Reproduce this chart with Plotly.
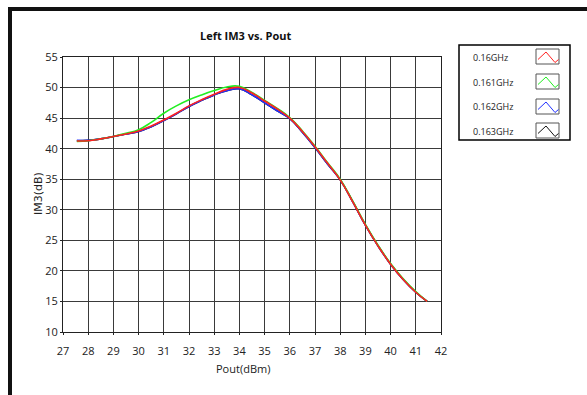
import plotly.graph_objects as go

# Output power sweep (dBm)
pout = [27.55, 28, 28.5, 29, 29.5, 30, 30.5, 31, 31.5, 32, 32.5, 33, 33.5,
        34, 34.5, 35, 35.5, 36, 36.5, 37, 37.5, 38, 38.5, 39, 39.5, 40, 40.5, 41, 41.45]

# Left IM3 (dB) for each carrier frequency
im3_160 = [41.25, 41.3, 41.6, 42.0, 42.4, 42.9, 43.7, 44.7, 45.8, 47.0, 48.0, 48.9, 49.7,
           50.0, 49.1, 47.8, 46.5, 45.0, 42.8, 40.3, 37.6, 34.9, 31.3, 27.5, 24.1, 21.1, 18.6, 16.5, 15.0]
im3_161 = [41.2, 41.3, 41.6, 42.0, 42.5, 43.1, 44.3, 45.8, 47.0, 48.0, 48.8, 49.5, 50.1,
           50.2, 49.2, 47.9, 46.6, 45.1, 42.9, 40.4, 37.7, 35.0, 31.4, 27.6, 24.2, 21.2, 18.7, 16.6, 15.0]
im3_162 = [41.35, 41.35, 41.6, 42.0, 42.4, 42.8, 43.6, 44.6, 45.7, 46.9, 47.9, 48.8, 49.5,
           49.8, 48.8, 47.5, 46.2, 44.9, 42.7, 40.2, 37.5, 34.9, 31.3, 27.5, 24.1, 21.1, 18.6, 16.5, 15.0]
im3_163 = [41.3, 41.35, 41.6, 42.0, 42.4, 42.8, 43.6, 44.6, 45.7, 46.9, 47.9, 48.8, 49.5,
           49.8, 48.8, 47.5, 46.2, 44.9, 42.7, 40.2, 37.5, 34.9, 31.3, 27.5, 24.1, 21.1, 18.6, 16.5, 15.0]

labels = ["0.16GHz", "0.161GHz", "0.162GHz", "0.163GHz"]
series = [im3_160, im3_161, im3_162, im3_163]
colors = ["#ff2020", "#22ee22", "#2030ff", "#111111"]

x_ticks = list(range(27, 43))
y_ticks = list(range(10, 56, 5))

W, H = 587, 395
L, R, T, B = 63, 441, 57, 332  # plot area in pixels


def px(x):
    return (x - L) / (R - L)


def py(y):
    return (B - y) / (B - T)


fig = go.Figure()
# black drawn first, red last so it sits on top
for i in [3, 2, 1, 0]:
    fig.add_trace(go.Scatter(x=pout, y=series[i], mode="lines", name=labels[i],
                             line=dict(color=colors[i], width=1.6, shape="spline", smoothing=1.3),
                             showlegend=False))

font_main = "Open Sans, DejaVu Sans, sans-serif"
shapes = []
annotations = []

# window frame edges
shapes.append(dict(type="line", xref="paper", yref="paper", x0=px(8), x1=px(W + 2), y0=py(9), y1=py(9),
                   line=dict(color="#111111", width=4)))
shapes.append(dict(type="line", xref="paper", yref="paper", x0=px(10), x1=px(10), y0=py(7), y1=py(H + 2),
                   line=dict(color="#111111", width=4)))

# legend box
shapes.append(dict(type="rect", xref="paper", yref="paper", x0=px(459), x1=px(570), y0=py(45), y1=py(140),
                   line=dict(color="#000000", width=1.5), fillcolor="white"))
row_tops = [49, 74, 99, 123]
for lab, col, top in zip(labels, colors, row_tops):
    bx0, bx1, by0, by1 = 536, 559, top, top + 15
    shapes.append(dict(type="rect", xref="paper", yref="paper", x0=px(bx0), x1=px(bx1), y0=py(by0), y1=py(by1),
                       line=dict(color="#555555", width=1), fillcolor="white"))
    pts = [(bx0 + 2, top + 10.5), (bx0 + 10, top + 3), (bx0 + 19, top + 13.5), (bx0 + 22.5, top + 10.5)]
    path = "M " + " L ".join(f"{px(a):.5f},{py(b):.5f}" for a, b in pts)
    shapes.append(dict(type="path", xref="paper", yref="paper", path=path,
                       line=dict(color=col, width=1)))
    annotations.append(dict(xref="paper", yref="paper", x=px(471), y=py(top + 8), text=lab,
                            showarrow=False, xanchor="left", yanchor="middle",
                            font=dict(family=font_main, size=9, color="#222222")))

# title and axis titles
annotations.append(dict(xref="paper", yref="paper", x=px(245), y=py(36), text="<b>Left IM3 vs. Pout</b>",
                        showarrow=False, xanchor="center", yanchor="middle",
                        font=dict(family=font_main, size=11, color="#111111")))
annotations.append(dict(xref="paper", yref="paper", x=px(243), y=py(368), text="Pout(dBm)",
                        showarrow=False, xanchor="center", yanchor="middle",
                        font=dict(family=font_main, size=11, color="#222222")))
annotations.append(dict(xref="paper", yref="paper", x=px(38), y=py(194), text="IM3(dB)", textangle=-90,
                        showarrow=False, xanchor="center", yanchor="middle",
                        font=dict(family="DejaVu Sans, sans-serif", size=11, color="#222222")))

axis_common = dict(showgrid=True, gridcolor="#3a3a3a", gridwidth=1, showline=True, linecolor="#222222",
                   linewidth=1, mirror=True, zeroline=False, ticks="outside", ticklen=2,
                   tickcolor="#222222", tickfont=dict(family=font_main, size=11, color="#222222"))

fig.update_layout(
    width=W, height=H,
    margin=dict(l=L, r=W - R, t=T, b=H - B, pad=0),
    paper_bgcolor="white", plot_bgcolor="white",
    xaxis=dict(range=[27, 42], tickvals=x_ticks, ticktext=[str(v) for v in x_ticks],
               ticklabelstandoff=7, **axis_common),
    yaxis=dict(range=[10, 55], tickvals=y_ticks, ticktext=[str(v) for v in y_ticks], **axis_common),
    shapes=shapes, annotations=annotations, showlegend=False,
)

fig.write_html("out.html")
